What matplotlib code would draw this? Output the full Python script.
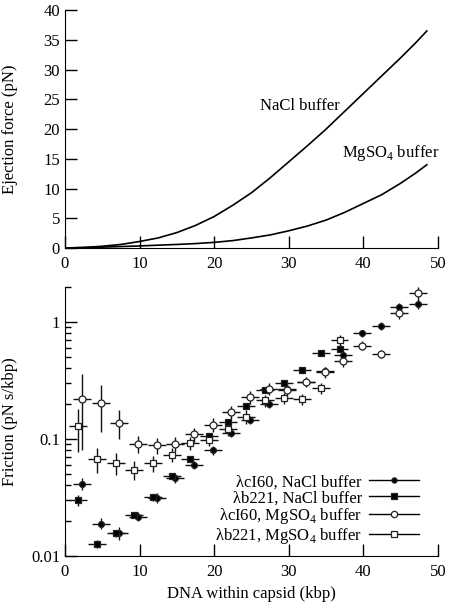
import matplotlib
matplotlib.use('Agg')
import matplotlib.pyplot as plt
from matplotlib.lines import Line2D
from matplotlib.ticker import FixedLocator, FixedFormatter, NullFormatter, LogLocator

plt.rcParams['font.family'] = ['Liberation Serif', 'DejaVu Serif']
plt.rcParams['mathtext.fontset'] = 'custom'
plt.rcParams['mathtext.rm'] = 'Liberation Serif'
plt.rcParams['font.size'] = 12

# ---- top panel: ejection force curves ----
force_x = [0, 2.5, 5, 7.5, 10, 12.5, 15, 17.5, 20, 22.5, 25, 27.5, 30,
           32.5, 35, 37.5, 40, 42.5, 45, 47, 48.5]
force_nacl = [0, 0.1, 0.3, 0.6, 1.1, 1.7, 2.6, 3.8, 5.3, 7.2, 9.3, 11.8, 14.5,
              17.2, 20.0, 23.0, 26.0, 29.0, 32.0, 34.5, 36.5]
force_mgso4 = [0, 0.07, 0.15, 0.25, 0.35, 0.48, 0.6, 0.75, 0.95, 1.25, 1.7, 2.2, 2.9,
               3.7, 4.7, 6.0, 7.5, 9.0, 10.9, 12.6, 14.0]

# ---- bottom panel: friction data ----
ci60_x = [2.3, 4.8, 7.3, 9.8, 12.3, 14.8, 17.3, 19.8, 22.3, 24.8, 27.3, 29.8,
          32.3, 34.8, 37.3, 39.8, 42.3, 44.8, 47.3]
ci60_nacl = [0.0415, 0.0189, 0.0156, 0.0217, 0.0315, 0.0464, 0.060, 0.0805, 0.113,
             0.146, 0.199, 0.269, 0.307, 0.381, 0.526, 0.80, 0.924, 1.34, 1.41]
ci60_nacl_err = [0.005, 0.002, 0.002, 0.002, 0.003, 0.004, 0.005, 0.007, 0.01,
                 0.012, 0.016, 0.02, 0.025, 0.03, 0.04, 0.06, 0.07, 0.1, 0.12]
ci60_mgso4 = [0.221, 0.201, 0.137, 0.0912, 0.088, 0.091, 0.110, 0.132, 0.170,
              0.229, 0.268, 0.264, 0.307, 0.37, 0.461, 0.627, 0.536, 1.19, 1.75]
ci60_mgso4_err = [0.14, 0.086, 0.038, 0.015, 0.013, 0.013, 0.015, 0.018, 0.022,
                  0.03, 0.03, 0.03, 0.03, 0.04, 0.05, 0.055, 0.04, 0.14, 0.23]

b221_x = [1.8, 4.3, 6.8, 9.3, 11.8, 14.3, 16.8, 19.3, 21.8, 24.3, 26.8, 29.3,
          31.8, 34.3, 36.8]
b221_nacl = [0.0299, 0.0127, 0.0156, 0.0222, 0.0317, 0.0486, 0.0679, 0.105, 0.139,
             0.190, 0.264, 0.301, 0.389, 0.539, 0.591]
b221_nacl_err = [0.003, 0.001, 0.001, 0.001, 0.002, 0.003, 0.004, 0.006, 0.008,
                 0.01, 0.015, 0.02, 0.02, 0.03, 0.04]
b221_mgso4 = [0.128, 0.0675, 0.0623, 0.0547, 0.0618, 0.0734, 0.0925, 0.0987, 0.121,
              0.155, 0.213, 0.222, 0.218, 0.273, 0.697]
b221_mgso4_err = [0.051, 0.016, 0.013, 0.01, 0.01, 0.01, 0.012, 0.012, 0.015,
                  0.02, 0.025, 0.025, 0.025, 0.03, 0.08]
x_err = 1.2

labels = ['λcI60, NaCl buffer', 'λb221, NaCl buffer',
          'λcI60, MgSO$_4$ buffer', 'λb221, MgSO$_4$ buffer']

fig = plt.figure(figsize=(4.5, 6.1), dpi=100)
ax1 = fig.add_axes([0.1444, 0.5934, 0.829, 0.390])
ax2 = fig.add_axes([0.1444, 0.0886, 0.829, 0.4415])

for ax in (ax1, ax2):
    ax.spines['top'].set_visible(False)
    ax.spines['right'].set_visible(False)
    ax.tick_params(direction='in', length=8.5, width=1, which='major', labelsize=12)
    ax.tick_params(direction='in', length=4.5, width=1, which='minor')

ax1.plot(force_x, force_nacl, color='black', lw=1.2)
ax1.plot(force_x, force_mgso4, color='black', lw=1.2)
ax1.text(26.2, 23.8, 'NaCl buffer', ha='left', va='center', fontsize=12)
ax1.text(37.1, 15.9, 'MgSO$_4$ buffer', ha='left', va='center', fontsize=12)
ax1.set_xlim(0, 50)
ax1.set_ylim(0, 40)
ax1.set_xticks([0, 10, 20, 30, 40, 50])
ax1.set_yticks([0, 5, 10, 15, 20, 25, 30, 35, 40])
ax1.set_ylabel('Ejection force (pN)', fontsize=12)
ax1.tick_params(axis='x', pad=6)

series = [
    (ci60_x, ci60_nacl, ci60_nacl_err, 'o', 'black', 4.2),
    (b221_x, b221_nacl, b221_nacl_err, 's', 'black', 4.2),
    (ci60_x, ci60_mgso4, ci60_mgso4_err, 'o', 'white', 5.0),
    (b221_x, b221_mgso4, b221_mgso4_err, 's', 'white', 5.0),
]
handles = []
for (xs, ys, ye, mk, fc, ms), lab in zip(series, labels):
    ax2.errorbar(xs, ys, xerr=x_err, yerr=ye, fmt=mk, mfc=fc, mec='#222222',
                 mew=0.9, ms=ms, ecolor='#111111', elinewidth=1.0, capsize=0)
    handles.append(Line2D([0], [0], color='black', lw=1.0, marker=mk, mfc=fc,
                          mec='#222222', mew=0.9, ms=ms - 0.5, label=lab))

ax2.set_yscale('log')
ax2.set_xlim(0, 50)
ax2.set_ylim(0.01, 2.0)
ax2.set_xticks([0, 10, 20, 30, 40, 50])
ax2.yaxis.set_major_locator(FixedLocator([0.01, 0.1, 1]))
ax2.yaxis.set_major_formatter(FixedFormatter(['0.01', '0.1', '1']))
ax2.yaxis.set_minor_locator(LogLocator(base=10, subs=range(2, 10)))
ax2.yaxis.set_minor_formatter(NullFormatter())
ax2.set_ylabel('Friction (pN s/kbp)', fontsize=12)
ax2.set_xlabel('DNA within capsid (kbp)', fontsize=12)
ax2.tick_params(axis='x', pad=6)

ax2.legend(handles=handles, loc='lower right', bbox_to_anchor=(0.97, 0.005),
           frameon=False, markerfirst=False, handlelength=3.0, handletextpad=0.4,
           labelspacing=0.0, fontsize=12, borderpad=0)

ax1.yaxis.set_label_coords(-0.125, 0.5)
ax2.yaxis.set_label_coords(-0.125, 0.5)

fig.savefig('out.png', dpi=100)
